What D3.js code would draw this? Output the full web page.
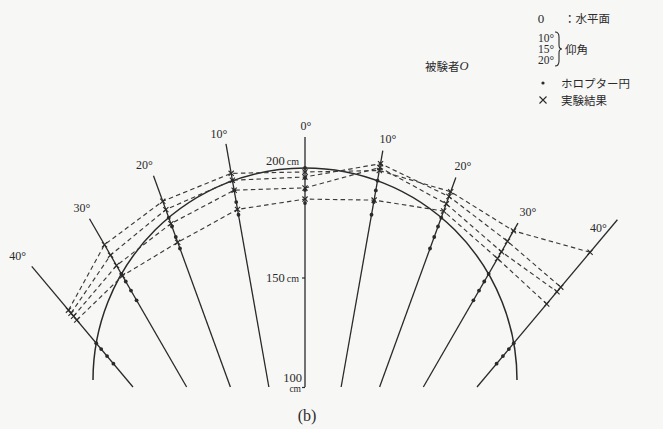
<!DOCTYPE html>
<html>
<head>
<meta charset="utf-8">
<script src="https://cdn.jsdelivr.net/npm/d3@7"></script>
<style>
  html, body { margin: 0; padding: 0; background: #f7f7f6; }
  svg { display: block; }
</style>
</head>
<body>
<svg id="chart" width="663" height="429"></svg>
<script>
// Viewing directions (deg, negative = left of the median line)
const angles = [-40, -30, -20, -10, 0, 10, 20, 30, 40];
const angleLabels = ["40°", "30°", "20°", "10°", "0°", "10°", "20°", "30°", "40°"];
// Outer extent of each direction line (cm)
const rayEnds = [200.5, 203.2, 208.7, 214.2, 214.2, 211.0, 207.8, 200.9, 228.3];

// Gaze elevation conditions
const conditions = ["0", "10°", "15°", "20°"];

// Horopter-circle points (cm) per condition, one per direction
const horopter0  = [154.7, 174.1, 188.3, 197.1, 200.0, 197.1, 188.3, 174.1, 154.7];
const horopter10 = [151.2, 170.1, 184.0, 192.6, 195.4, 192.6, 184.0, 170.1, 151.2];
const horopter15 = [147.0, 165.3, 178.9, 187.2, 190.0, 187.2, 178.9, 165.3, 147.0];
const horopter20 = [142.5, 160.2, 173.3, 181.3, 184.0, 181.3, 173.3, 160.2, 142.5];

// Measured apparent frontal-plane settings (cm) per condition
const result0  = [174.4, 189.5, 196.3, 200.5, 198.2, 201.8, 200.9, 196.8, 208.9];
const result10 = [172.6, 184.0, 192.2, 197.3, 195.9, 205.0, 198.6, 191.3, 188.1];
const result15 = [170.8, 178.5, 185.4, 192.7, 190.9, 203.2, 195.0, 185.8, 185.4];
const result20 = [168.5, 173.1, 176.3, 183.8, 185.8, 188.1, 191.5, 182.2, 178.1];

// Distance axis along the 0° line
const distTicks = [100, 150, 200];
const distTickLabels = ["100", "150", "200"];
const distUnit = "cm";

const horopterSeries = [horopter0, horopter10, horopter15, horopter20];
const resultSeries = [result0, result10, result15, result20];

const ink = "#2a2a2a";
const serif = "'Liberation Serif', 'DejaVu Serif', serif";
const jp = "'Noto Sans CJK JP', 'Noto Sans CJK SC', sans-serif";

const svg = d3.select("#chart");
const cx = 305, cy = 592;                       // observer position
const rScale = d3.scaleLinear().domain([100, 200]).range([205, 424]);
const rad = d => d * Math.PI / 180;
const ptPx = (a, r) => [cx + r * Math.sin(rad(a)), cy - r * Math.cos(rad(a))];
const pt = (a, cm) => ptPx(a, rScale(cm));
const baseR = rScale(100);

const g = svg.append("g");

// direction lines, cut at the 100 cm level
g.selectAll("line.ray")
  .data(angles)
  .join("line")
  .attr("class", "ray")
  .each(function (a, i) {
    const p0 = ptPx(a, baseR / Math.cos(rad(a)));
    const p1 = pt(a, rayEnds[i]);
    d3.select(this).attr("x1", p0[0]).attr("y1", p0[1]).attr("x2", p1[0]).attr("y2", p1[1]);
  })
  .attr("stroke", ink)
  .attr("stroke-width", 1.3);

// horopter circle through the observer and the 200 cm fixation point
const diam = rScale(200);
const circ = d3.path();
circ.arc(cx, cy - diam / 2, diam / 2, Math.PI, 0);
g.append("path")
  .attr("d", circ.toString())
  .attr("fill", "none")
  .attr("stroke", ink)
  .attr("stroke-width", 1.5);

// dashed lines joining the measured points
const line = d3.line().x(d => d[0]).y(d => d[1]).curve(d3.curveLinear);
g.selectAll("path.result")
  .data(resultSeries)
  .join("path")
  .attr("class", "result")
  .attr("d", s => line(s.map((v, i) => pt(angles[i], v))))
  .attr("fill", "none")
  .attr("stroke", "#3a3a3a")
  .attr("stroke-width", 1.15)
  .attr("stroke-dasharray", "4.5,3.2");

// horopter points
const dots = [];
horopterSeries.forEach(s => s.forEach((v, i) => dots.push(pt(angles[i], v))));
g.selectAll("circle.hp")
  .data(dots)
  .join("circle")
  .attr("class", "hp")
  .attr("cx", d => d[0]).attr("cy", d => d[1])
  .attr("r", 1.9)
  .attr("fill", ink);

// measured points as crosses
const crosses = [];
resultSeries.forEach(s => s.forEach((v, i) => crosses.push(pt(angles[i], v))));
const cs = 2.6;
g.selectAll("path.x")
  .data(crosses)
  .join("path")
  .attr("class", "x")
  .attr("d", d => `M${d[0]-cs},${d[1]-cs}L${d[0]+cs},${d[1]+cs}M${d[0]-cs},${d[1]+cs}L${d[0]+cs},${d[1]-cs}`)
  .attr("stroke", ink)
  .attr("stroke-width", 1.1);

// direction labels
const labelNudge = [[-14, -10], [-7.5, -11], [-9, -11], [-7, -10], [1, -11], [5, -12], [7, -12], [10, -11], [-19, 8]];
g.selectAll("text.ang")
  .data(angles)
  .join("text")
  .attr("class", "ang")
  .each(function (a, i) {
    const p = pt(a, rayEnds[i]);
    d3.select(this)
      .attr("x", p[0] + labelNudge[i][0])
      .attr("y", p[1] + labelNudge[i][1]);
  })
  .attr("text-anchor", "middle")
  .attr("dominant-baseline", "central")
  .attr("font-family", serif)
  .attr("font-size", 12)
  .attr("fill", ink)
  .text((a, i) => angleLabels[i]);

// distance axis on the 0° line
const yDist = d3.scaleLinear().domain([100, 200]).range([cy - rScale(100), cy - rScale(200)]);
const axis = d3.axisLeft(yDist).tickValues(distTicks).tickSize(3).tickPadding(3)
  .tickFormat((d, i) => distTickLabels[i]);
const ax = svg.append("g").attr("transform", `translate(${cx},0)`).call(axis);
ax.select(".domain").remove();
ax.selectAll(".tick line").attr("stroke", ink).attr("stroke-width", 1.2);
ax.selectAll(".tick text")
  .attr("font-family", serif)
  .attr("font-size", 12.5)
  .attr("fill", ink)
  .each(function (d, i) {
    const t = d3.select(this);
    const txt = distTickLabels[i];
    t.text(null);
    if (d === 100) {
      t.attr("dy", null).attr("y", -10).attr("dominant-baseline", "central");
      t.append("tspan").attr("x", -3).text(txt);
      t.append("tspan").attr("x", -4).attr("dy", 11).attr("font-size", 9.5).text(distUnit);
    } else {
      t.attr("dy", null).attr("dominant-baseline", "central").attr("y", d === 200 ? -8 : 0);
      t.append("tspan").text(txt);
      t.append("tspan").attr("dx", 2).attr("font-size", 10).text(distUnit);
    }
  });
ax.selectAll(".tick").filter(d => d === 200).select("line").remove();

// legend
const lg = svg.append("g").attr("fill", ink);
lg.append("text").attr("x", 541).attr("y", 18).attr("text-anchor", "middle")
  .attr("dominant-baseline", "central").attr("font-family", serif).attr("font-size", 13)
  .text(conditions[0]);
lg.append("text").attr("x", 564).attr("y", 18).attr("dominant-baseline", "central")
  .attr("font-family", jp).attr("font-size", 11.5).text("：水平面");
conditions.slice(1).forEach((c, i) => {
  lg.append("text").attr("x", 546).attr("y", 38 + i * 11).attr("text-anchor", "middle")
    .attr("dominant-baseline", "central").attr("font-family", serif).attr("font-size", 11.5)
    .text(c);
});
lg.append("path")
  .attr("d", "M555,32 Q559,32 559,37 L559,45 Q559,49 562,49 Q559,49 559,53 L559,61 Q559,66 555,66")
  .attr("fill", "none").attr("stroke", ink).attr("stroke-width", 1.1);
lg.append("text").attr("x", 565).attr("y", 49).attr("dominant-baseline", "central")
  .attr("font-family", jp).attr("font-size", 11.5).text("仰角");
const subj = lg.append("text").attr("x", 425).attr("y", 66).attr("dominant-baseline", "central")
  .attr("font-family", jp).attr("font-size", 11.5);
subj.append("tspan").text("被験者");
subj.append("tspan").attr("font-family", serif).attr("font-style", "italic").attr("font-size", 12.5).text("O");
lg.append("circle").attr("cx", 543).attr("cy", 83).attr("r", 1.6);
lg.append("text").attr("x", 561).attr("y", 83).attr("dominant-baseline", "central")
  .attr("font-family", jp).attr("font-size", 11.5).text("ホロプター円");
lg.append("path").attr("d", "M539.5,96.5L546.5,103.5M539.5,103.5L546.5,96.5")
  .attr("stroke", ink).attr("stroke-width", 1.1);
lg.append("text").attr("x", 561).attr("y", 100).attr("dominant-baseline", "central")
  .attr("font-family", jp).attr("font-size", 11.5).text("実験結果");

// panel caption
svg.append("text").attr("x", 307).attr("y", 415).attr("text-anchor", "middle")
  .attr("dominant-baseline", "central").attr("font-family", serif).attr("font-size", 16)
  .attr("fill", ink).text("(b)");
</script>
</body>
</html>
